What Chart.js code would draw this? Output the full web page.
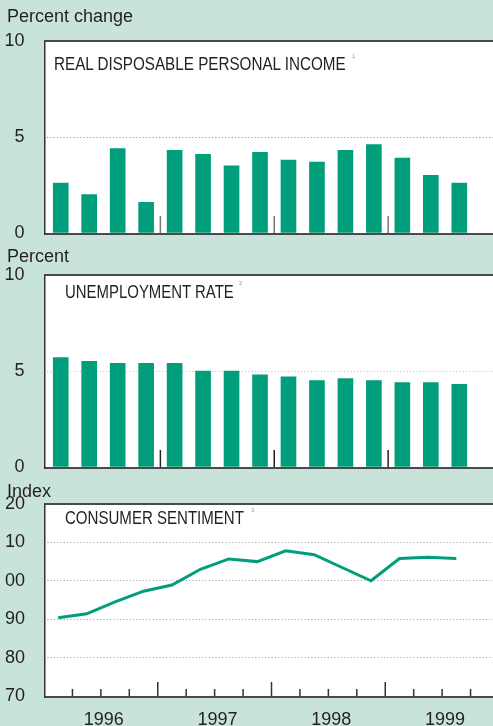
<!DOCTYPE html>
<html><head><meta charset="utf-8">
<script src="https://cdn.jsdelivr.net/npm/chart.js@4/dist/chart.umd.min.js"></script>
<style>
html,body{margin:0;padding:0;background:#c8e4da;}
#wrap{position:relative;width:493px;height:726px;overflow:hidden;background:#c8e4da;font-family:"Liberation Sans",Arial,sans-serif;color:#231f20;}
.cv{position:absolute;left:0;}
.unit{position:absolute;left:7px;font-size:18px;line-height:18px;white-space:nowrap;}
.ttl{position:absolute;font-size:18px;line-height:18px;white-space:nowrap;transform-origin:0 0;}
.sup{position:absolute;font-size:6px;line-height:6px;color:#999;}
</style></head><body>
<div id="wrap">
<canvas id="c1" class="cv" width="502" height="273" style="top:0px"></canvas>
<canvas id="c2" class="cv" width="502" height="275" style="top:232px"></canvas>
<canvas id="c3" class="cv" width="499" height="266" style="top:460px"></canvas>
<div class="unit" style="top:7px">Percent change</div>
<div class="unit" style="top:247px">Percent</div>
<div class="unit" style="top:482px">Index</div>
<div class="ttl" style="left:54px;top:56px;font-size:17.5px;line-height:17.5px;transform:scaleX(0.87)">REAL DISPOSABLE PERSONAL INCOME</div>
<div class="sup" style="left:352px;top:53px">1</div>
<div class="ttl" style="left:65px;top:283px;transform:scaleX(0.83)">UNEMPLOYMENT RATE</div>
<div class="sup" style="left:239px;top:280px">2</div>
<div class="ttl" style="left:65px;top:510px;font-size:17.5px;line-height:17.5px;transform:scaleX(0.86)">CONSUMER SENTIMENT</div>
<div class="sup" style="left:251px;top:507px">3</div>
</div>
<script>
// ---- data ----
const quarters = ['1996 Q1','1996 Q2','1996 Q3','1996 Q4','1997 Q1','1997 Q2','1997 Q3','1997 Q4',
                  '1998 Q1','1998 Q2','1998 Q3','1998 Q4','1999 Q1','1999 Q2','1999 Q3','1999 Q4'];
const years = ['1996','1997','1998','1999'];
const incomeGrowth = [2.6, 2.0, 4.4, 1.6, 4.3, 4.1, 3.5, 4.2, 3.8, 3.7, 4.3, 4.6, 3.9, 3.0, 2.6];
const unemployment = [5.7, 5.5, 5.4, 5.4, 5.4, 5.0, 5.0, 4.8, 4.7, 4.5, 4.6, 4.5, 4.4, 4.4, 4.3];
const sentiment = [90.4, 91.4, 94.5, 97.3, 98.9, 103.0, 105.7, 105.0, 107.8, 106.8, 103.4, 100.0, 105.8, 106.1, 105.8];
const sentimentTickLabels = ['70','80','90','00','10','20'];

const GREEN = '#009e7b';
Chart.defaults.font.family = '"Liberation Sans", Arial, sans-serif';
Chart.defaults.font.size = 18;
Chart.defaults.color = '#231f20';

const framePlugin = {
  id: 'frame',
  beforeDraw(chart, args, o) {
    const {ctx, chartArea: a, width} = chart;
    ctx.save();
    ctx.fillStyle = '#ffffff';
    ctx.fillRect(o.left, a.top, width - o.left, a.bottom - a.top);
    ctx.restore();
  },
  afterDraw(chart, args, o) {
    const {ctx, chartArea: a, width} = chart;
    ctx.save();
    ctx.strokeStyle = '#4a4a4a';
    ctx.lineWidth = 2;
    ctx.beginPath(); ctx.moveTo(o.left, a.top); ctx.lineTo(width, a.top); ctx.stroke();
    ctx.beginPath(); ctx.moveTo(o.left, a.bottom + 1); ctx.lineTo(width, a.bottom + 1); ctx.stroke();
    ctx.strokeStyle = '#333';
    ctx.lineWidth = 1.5;
    ctx.beginPath(); ctx.moveTo(o.left + 0.75, a.top); ctx.lineTo(o.left + 0.75, a.bottom + 2); ctx.stroke();
    ctx.restore();
  }
};

const yearTickPlugin = {
  id: 'yearTicks',
  afterDatasetsDraw(chart, args, o) {
    const {ctx, chartArea: a} = chart;
    const xs = chart.scales.x;
    ctx.save();
    ctx.strokeStyle = o.color;
    ctx.lineWidth = 1.5;
    for (let k = 4; k < quarters.length; k += 4) {
      const x = xs.getPixelForValue(k - 0.5);
      ctx.beginPath(); ctx.moveTo(x, a.bottom); ctx.lineTo(x, a.bottom - 17); ctx.stroke();
    }
    ctx.restore();
  }
};

const quarterTickPlugin = {
  id: 'quarterTicks',
  afterDatasetsDraw(chart) {
    const {ctx, chartArea: a} = chart;
    const xs = chart.scales.x;
    ctx.save();
    ctx.strokeStyle = '#333';
    ctx.lineWidth = 1.5;
    for (let k = 1; k < quarters.length; k++) {
      const x = xs.getPixelForValue(k - 0.5);
      const len = (k % 4 === 0) ? 14 : 7;
      ctx.beginPath(); ctx.moveTo(x, a.bottom); ctx.lineTo(x, a.bottom - len); ctx.stroke();
    }
    ctx.restore();
  }
};

function barChart(id, data, padTop, padBottom, tickColor, gridColor) {
  return new Chart(document.getElementById(id), {
    type: 'bar',
    data: { labels: quarters, datasets: [{ data: data, backgroundColor: GREEN, barThickness: 15 }] },
    options: {
      responsive: false, animation: false,
      layout: { padding: { top: padTop, bottom: padBottom, left: 0, right: 0 } },
      plugins: { legend: { display: false }, tooltip: { enabled: false },
                 frame: { left: 44 }, yearTicks: { color: tickColor } },
      scales: {
        x: { type: 'category', offset: true, display: false },
        y: {
          min: 0, max: 10,
          afterFit: (s) => { s.width = 46.5; },
          ticks: { stepSize: 5, padding: 22, font: { size: 18 } },
          grid: { drawTicks: false, lineWidth: 1,
                  color: (c) => (c.tick && c.tick.value === 5) ? gridColor : 'transparent' },
          border: { display: false, dash: [1, 2.3] }
        }
      }
    },
    plugins: [framePlugin, yearTickPlugin]
  });
}

// canvas heights chosen so bottom padding (40) exceeds the axis label overflow
barChart('c1', incomeGrowth, 41, 40, '#777', '#888');
barChart('c2', unemployment, 43, 40, '#222', '#bbb');

new Chart(document.getElementById('c3'), {
  type: 'line',
  data: { labels: quarters, datasets: [{ data: sentiment, borderColor: GREEN, borderWidth: 3,
          pointRadius: 0, tension: 0, fill: false }] },
  options: {
    responsive: false, animation: false,
    layout: { padding: { top: 44, bottom: 0, left: 0, right: 0 } },
    plugins: { legend: { display: false }, tooltip: { enabled: false }, frame: { left: 44 } },
    scales: {
      x: {
        type: 'category', offset: true,
        afterFit: (s) => { s.height = 30; },
        grid: { display: false, drawTicks: false },
        border: { display: false },
        ticks: { autoSkip: false, maxRotation: 0, minRotation: 0, padding: 13, labelOffset: 17,
                 font: { size: 18 },
                 callback: (v, i) => (i % 4 === 1) ? years[(i - 1) / 4] : '' }
      },
      y: {
        min: 70, max: 120,
        afterFit: (s) => { s.width = 44; },
        ticks: { stepSize: 10, padding: 19, font: { size: 18 },
                 callback: (v, i) => sentimentTickLabels[i] },
        grid: { drawTicks: false, lineWidth: 1,
                color: (c) => (c.tick && c.tick.value > 70 && c.tick.value < 120) ? '#999' : 'transparent' },
        border: { display: false, dash: [1, 2.3] }
      }
    }
  },
  plugins: [framePlugin, quarterTickPlugin]
});
</script>
</body></html>
